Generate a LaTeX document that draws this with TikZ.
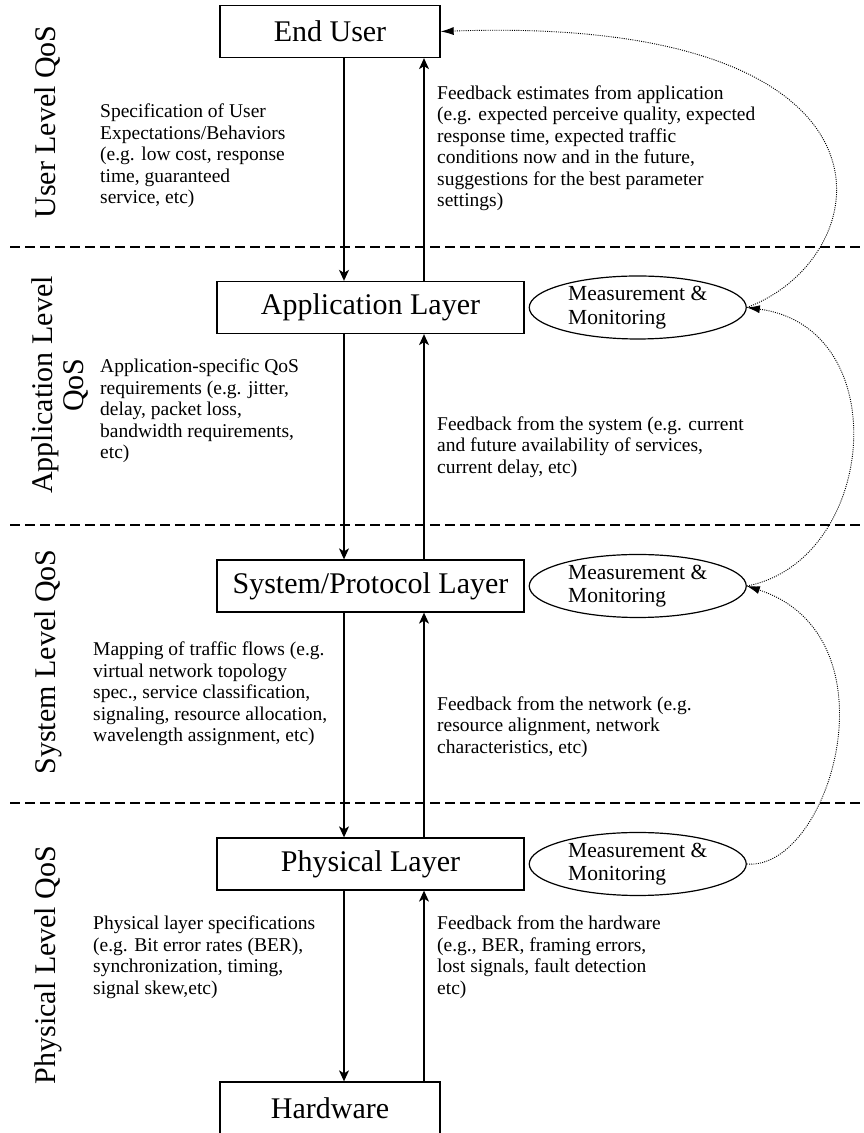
\documentclass[tikz,border=0pt]{standalone}
\usepackage{fontspec}
\setmainfont{Liberation Serif}
\usetikzlibrary{arrows.meta,shapes.geometric,positioning}

\tikzset{
  layer/.style={draw, line width=1.3pt, minimum width=307pt, minimum height=52pt,
    inner sep=0pt, font=\fontsize{30}{32}\selectfont},
  endbox/.style={layer, minimum width=220pt},
  mmbox/.style={draw, ellipse, line width=1.2pt, minimum width=217pt, minimum height=63pt,
    inner sep=0pt, align=left, font=\fontsize{21.5}{23.5}\selectfont},
  txt/.style={anchor=west, align=left, inner sep=0pt, font=\fontsize{19.5}{21.5}\selectfont},
  lvl/.style={rotate=90, align=center, inner sep=0pt, font=\fontsize{30}{31}\selectfont},
  req/.style={line width=1.2pt, -{Stealth[length=11pt,width=10pt,inset=3pt]}},
  fbk/.style={line width=0.9pt, dash pattern=on 1pt off 1.2pt, -{Latex[length=13pt,width=8pt]}},
  sepline/.style={line width=1.3pt, dash pattern=on 10pt off 5pt}
}

\begin{document}
\begin{tikzpicture}[x=1pt,y=1pt]
\useasboundingbox (0,0) rectangle (863,1133);

% layers
\node[endbox] (user) at (330,1101.5) {End User};
\node[layer] (app) at (370.5,825.5) {Application Layer};
\node[layer] (sys) at (370.5,547) {System/Protocol Layer};
\node[layer] (phy) at (370.5,269) {Physical Layer};
\node[endbox] (hw) at (330,25) {Hardware};

\node[mmbox, right=4pt of app] (appmm) {Measurement \&\\Monitoring};
\node[mmbox, right=4pt of sys] (sysmm) {Measurement \&\\Monitoring};
\node[mmbox, right=4pt of phy] (phymm) {Measurement \&\\Monitoring};

% level borders
\draw[sepline] (10,886) -- (863,886);
\draw[sepline] (10,608) -- (863,608);
\draw[sepline] (10,330) -- (863,330);

\node[lvl] (lvuser) at (48,1011) {User Level QoS};
\node[lvl] (lvapp) at (60,748) {Application Level\\QoS};
\node[lvl] (lvsys) at (48,471) {System Level QoS};
\node[lvl] (lvphy) at (48,168) {Physical Level QoS};

% requests down, feedback up
\coordinate (dn) at (344,0);
\coordinate (up) at (424,0);
\draw[req] (user.south -| dn) -- (app.north -| dn);
\draw[req] (app.north -| up) -- (user.south -| up);
\draw[req] (app.south -| dn) -- (sys.north -| dn);
\draw[req] (sys.north -| up) -- (app.south -| up);
\draw[req] (sys.south -| dn) -- (phy.north -| dn);
\draw[req] (phy.north -| up) -- (sys.south -| up);
\draw[req] (phy.south -| dn) -- (hw.north -| dn);
\draw[req] (hw.north -| up) -- (phy.south -| up);

\node[txt] (spec1) at (100,977) {Specification of User\\Expectations/Behaviors\\(e.g. low cost, response\\time, guaranteed\\service, etc)};
\node[txt] (back1) at (437,985) {Feedback estimates from application\\(e.g. expected perceive quality, expected\\response time, expected traffic\\conditions now and in the future,\\suggestions for the best parameter\\settings)};

\node[txt] (spec2) at (100,722) {Application-specific QoS\\requirements (e.g. jitter,\\delay, packet loss,\\bandwidth requirements,\\etc)};
\node[txt] (back2) at (437,686) {Feedback from the system (e.g. current\\and future availability of services,\\current delay, etc)};

\node[txt] (spec3) at (93,439) {Mapping of traffic flows (e.g.\\virtual network topology\\spec., service classification,\\signaling, resource allocation,\\wavelength assignment, etc)};
\node[txt] (back3) at (437,406) {Feedback from the network (e.g.\\resource alignment, network\\characteristics, etc)};

\node[txt] (spec4) at (93,176) {Physical layer specifications\\(e.g. Bit error rates (BER),\\synchronization, timing,\\signal skew,etc)};
\node[txt] (back4) at (437,176) {Feedback from the hardware\\(e.g., BER, framing errors,\\lost signals, fault detection\\etc)};

% measurement feedback loop
\draw[fbk] (phymm.east) .. controls +(83,-7) and +(153,-50) .. (sysmm.east);
\draw[fbk] (sysmm.east) .. controls +(130,25) and +(150,-20) .. (appmm.east);
\draw[fbk] (appmm.east) .. controls +(135,50) and +(480,17) .. (user.east);

\end{tikzpicture}
\end{document}
